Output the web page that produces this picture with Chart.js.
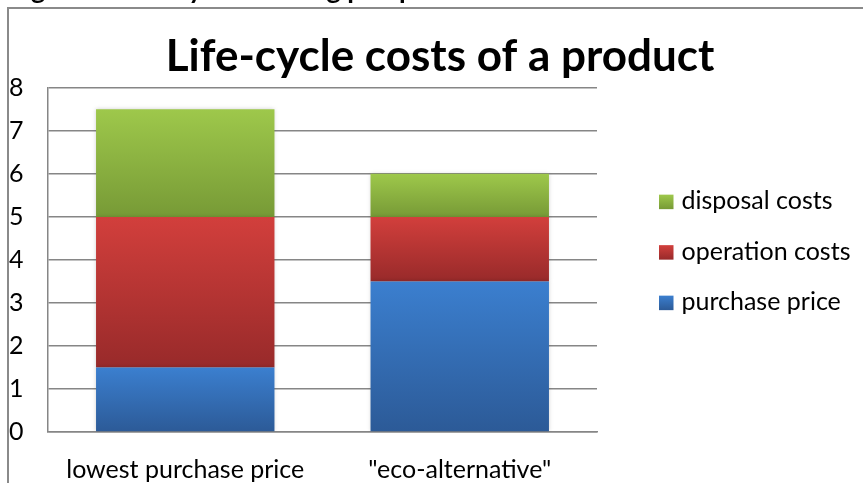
<!DOCTYPE html>
<html>
<head>
<meta charset="utf-8">
<script src="https://cdn.jsdelivr.net/npm/chart.js@4"></script>
<style>
  html, body { margin: 0; padding: 0; background: #fff; overflow: hidden; }
  #wrap { position: relative; width: 863px; height: 483px; }
  #frameTop { position: absolute; left: 7px; top: 7px; width: 856px; height: 0; border-top: 2px solid #8a8a8a; }
  #frameLeft { position: absolute; left: 7px; top: 7px; width: 0; height: 476px; border-left: 2px solid #8a8a8a; }
  canvas { position: absolute; left: 0; top: 0; }
</style>
</head>
<body>
<div id="wrap">
  <div id="frameTop"></div>
  <div id="frameLeft"></div>
  <canvas id="c" width="863" height="483"></canvas>
</div>
<script>
// ---- data ----
const categories = ['lowest purchase price', '"eco-alternative"'];
const purchasePrice = [1.5, 3.5];
const operationCosts = [3.5, 1.5];
const disposalCosts = [2.5, 1];
const seriesNames = ['purchase price', 'operation costs', 'disposal costs'];
const yTickValues = [0, 1, 2, 3, 4, 5, 6, 7, 8];
const chartTitle = 'Life-cycle costs of a product';
const cutCaption = 'Figure 1: Life-cycle thinking perspective';

const seriesValues = [purchasePrice, operationCosts, disposalCosts];
const palette = [
  { top: '#3b7fcf', bottom: '#2c5a97', mid: '#336dba' },
  { top: '#d23f3c', bottom: '#982a2a', mid: '#bf3534' },
  { top: '#9ec84b', bottom: '#779a36', mid: '#8cb443' }
];

function gradientFill(di) {
  return function (ctx) {
    const chart = ctx.chart;
    const p = palette[di];
    if (ctx.type !== 'data' || !chart.chartArea || !chart.scales.y) return p.mid;
    let start = 0;
    for (let k = 0; k < di; k++) start += seriesValues[k][ctx.dataIndex];
    const end = start + seriesValues[di][ctx.dataIndex];
    const y = chart.scales.y;
    const top = y.getPixelForValue(end);
    const bot = y.getPixelForValue(start);
    if (!isFinite(top) || !isFinite(bot) || top === bot) return p.mid;
    const g = chart.ctx.createLinearGradient(0, top, 0, bot);
    g.addColorStop(0, p.top);
    g.addColorStop(1, p.bottom);
    return g;
  };
}

const datasets = seriesNames.map((name, i) => ({
  label: name,
  data: seriesValues[i],
  backgroundColor: gradientFill(i),
  borderWidth: 0,
  categoryPercentage: 1,
  barPercentage: 0.65
}));

const FONT = 'Lato, sans-serif';
const LEGEND_FONT = '25px Lato, sans-serif';

// soft shadow around bars (Excel style)
const barShadow = {
  id: 'barShadow',
  beforeDatasetsDraw(chart) {
    const c = chart.ctx;
    c.save();
    c.shadowColor = 'rgba(0,0,0,0.18)';
    c.shadowBlur = 4;
    c.shadowOffsetX = 0;
    c.shadowOffsetY = 0;
  },
  afterDatasetsDraw(chart) { chart.ctx.restore(); }
};

// caption line cut off at the top edge of the picture (only descenders show)
const caption = {
  id: 'caption',
  afterDraw(chart) {
    const c = chart.ctx;
    c.save();
    c.setTransform(1, 0, 0, 1, 0, 0);
    c.font = 'bold 27px Lato, sans-serif';
    c.fillStyle = '#000';
    c.textBaseline = 'alphabetic';
    c.textAlign = 'left';
    c.fillText(cutCaption, 9, -1);
    c.restore();
  }
};

// legend to the right of the plot, reversed order, gradient swatches
const sideLegend = {
  id: 'sideLegend',
  afterDraw(chart) {
    const c = chart.ctx;
    const area = chart.chartArea;
    const x0 = area.right + 62;
    const box = 14.5;
    const step = 50.5;
    const midY = (area.top + area.bottom) / 2 - 7.5;
    const n = chart.data.datasets.length;
    c.save();
    c.font = LEGEND_FONT;
    c.textBaseline = 'alphabetic';
    c.textAlign = 'left';
    for (let r = 0; r < n; r++) {
      const di = n - 1 - r;
      const cy = midY + (r - (n - 1) / 2) * step;
      const top = cy - box / 2;
      const g = c.createLinearGradient(0, top, 0, top + box);
      g.addColorStop(0, palette[di].top);
      g.addColorStop(1, palette[di].bottom);
      c.fillStyle = g;
      c.fillRect(x0, top, box, box);
      c.fillStyle = '#000';
      c.fillText(chart.data.datasets[di].label, x0 + box + 8, top + box);
    }
    c.restore();
  }
};

new Chart(document.getElementById('c'), {
  type: 'bar',
  data: { labels: categories, datasets },
  plugins: [barShadow, sideLegend, caption],
  options: {
    responsive: false,
    animation: false,
    events: [],
    layout: { padding: { left: 0, right: -17, top: 30, bottom: 0 } },
    plugins: {
      title: {
        display: true,
        text: chartTitle,
        color: '#000',
        font: { family: FONT, size: 44, weight: 'bold' },
        padding: { top: 0, bottom: 5 }
      },
      legend: { display: false },
      tooltip: { enabled: false }
    },
    scales: {
      x: {
        stacked: true,
        grid: { display: false, drawTicks: false },
        border: { display: true, color: '#868686', width: 1.5 },
        ticks: { color: '#000', font: { family: FONT, size: 25 }, padding: 23, maxRotation: 0 },
        afterFit: (s) => { s.height = 51; }
      },
      y: {
        stacked: true,
        min: 0,
        max: 8,
        afterBuildTicks: (s) => { s.ticks = yTickValues.map(v => ({ value: v })); },
        grid: { color: '#868686', lineWidth: 1.5, drawTicks: false },
        border: { display: true, color: '#868686', width: 1.5 },
        ticks: { color: '#000', font: { family: FONT, size: 25 }, padding: 24.5 },
        afterFit: (s) => { s.width = 48; }
      },
      legendSpace: {
        position: 'right',
        display: true,
        grid: { display: false, drawTicks: false },
        border: { display: false },
        ticks: { display: false },
        afterFit: (s) => { s.width = 283; }
      }
    }
  }
});
</script>
</body>
</html>
